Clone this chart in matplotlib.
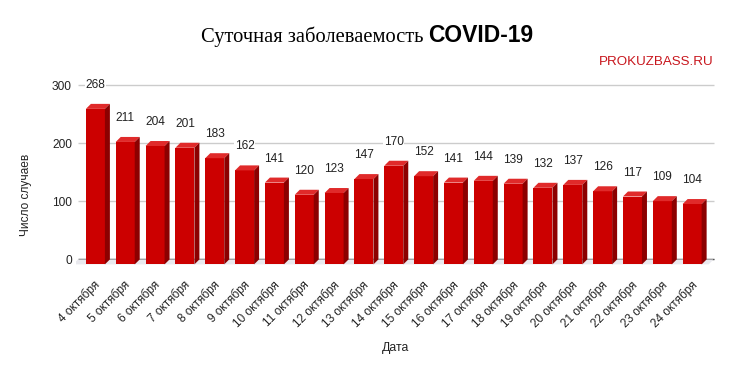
import numpy as np
import matplotlib
matplotlib.use("Agg")
import matplotlib.pyplot as plt
from matplotlib.collections import PolyCollection
from matplotlib.patches import Polygon

# ---- data ----
dates = ["4 октября", "5 октября", "6 октября", "7 октября", "8 октября",
         "9 октября", "10 октября", "11 октября", "12 октября", "13 октября",
         "14 октября", "15 октября", "16 октября", "17 октября", "18 октября",
         "19 октября", "20 октября", "21 октября", "22 октября", "23 октября",
         "24 октября"]
cases = [268, 211, 204, 201, 183, 162, 141, 120, 123, 147, 170, 152, 141,
         144, 139, 132, 137, 126, 117, 109, 104]
y_ticks = [0, 100, 200, 300]

title_main = "Суточная заболеваемость"
title_bold = "COVID-19"
source = "PROKUZBASS.RU"
x_title = "Дата"
y_title = "Число случаев"

# ---- styles ----
FRONT = "#cc0000"
TOP = "#e02a2a"
SIDE = "#8c0000"
GRID = "#cccccc"
TXT = "#222222"
FONT = ["Liberation Sans", "DejaVu Sans"]

W, H, DPI = 733, 374, 100
fig = plt.figure(figsize=(W / DPI, H / DPI), dpi=DPI)
fig.patch.set_facecolor("white")

# axes placed in pixel terms
left_px, right_px, top_px, bot_px = 76, 716, 70, 276
ax = fig.add_axes([left_px / W, 1 - bot_px / H,
                   (right_px - left_px) / W, (bot_px - top_px) / H])
xlim = (-0.65, 20.8)
ylim = (-20, 335)
ax.set_xlim(*xlim)
ax.set_ylim(*ylim)
for s in ax.spines.values():
    s.set_visible(False)
ax.set_facecolor("none")

px_x = (right_px - left_px) / (xlim[1] - xlim[0])
px_y = (bot_px - top_px) / (ylim[1] - ylim[0])
depth_px = 5
ddx = depth_px / px_x
ddy = depth_px / px_y
bw = 19 / px_x

x = np.arange(len(cases))
vals = np.array(cases, dtype=float)

# back-wall gridlines
g_left = xlim[0] + 2 / px_x
g_right = (x[-1] + bw / 2 + ddx) + 7 / px_x
for t in y_ticks:
    ax.plot([g_left, g_right], [t + ddy, t + ddy],
            color=("#333333" if t == 0 else GRID), lw=1, zorder=0.5,
            solid_capstyle="butt")

# floor
floor = Polygon([(g_left - ddx, 0), (g_right - ddx, 0),
                 (g_right, ddy), (g_left, ddy)],
                closed=True, facecolor="#e9e9ee", edgecolor="none", zorder=0.6)
ax.add_patch(floor)

# bars: front
ax.bar(x, vals, width=bw, color=FRONT, edgecolor="none", zorder=2)
# top & side faces
tops, sides = [], []
for xi, v in zip(x, vals):
    l, r = xi - bw / 2, xi + bw / 2
    tops.append([(l, v), (r, v), (r + ddx, v + ddy), (l + ddx, v + ddy)])
    sides.append([(r, 0), (r + ddx, ddy), (r + ddx, v + ddy), (r, v)])
ax.add_collection(PolyCollection(tops, facecolors=TOP, edgecolors="none", zorder=2))
ax.add_collection(PolyCollection(sides, facecolors=SIDE, edgecolors="none", zorder=2))

# value labels
for xi, v in zip(x, vals):
    ax.annotate(f"{int(v)}", (xi, v), xytext=(0, 24 * 72 / DPI),
                textcoords="offset points", ha="center", va="center",
                fontsize=8.6, color=TXT, family=FONT, zorder=3,
                bbox=dict(facecolor="white", edgecolor="none", pad=0.5))

# y ticks on back wall
ax.set_yticks(np.array(y_ticks) + ddy)
ax.set_yticklabels([str(t) for t in y_ticks], fontsize=8.6, color=TXT, family=FONT)
ax.tick_params(axis="y", length=0, pad=3)

# x ticks (anchored slightly right of the front-face centre)
ax.set_xticks(x + 3 / px_x)
ax.set_xticklabels(dates, rotation=45, ha="right", va="center",
                   rotation_mode="anchor", fontsize=8.5, color=TXT, family=FONT)
ax.tick_params(axis="x", length=0, pad=5)

# axis titles
fig.text(26 / W, 1 - 195 / H, y_title, rotation=90, ha="center", va="center",
         fontsize=8.6, color=TXT, family=FONT)
fig.text(396 / W, 1 - 348 / H, x_title, ha="center", va="center",
         fontsize=8.8, color=TXT, family=FONT)

# title
fig.text(201 / W, 1 - 41.7 / H, title_main, ha="left", va="baseline",
         fontsize=14.8, color="black", family=["Liberation Serif", "DejaVu Serif"])
fig.text(428 / W, 1 - 41.7 / H, title_bold, ha="left", va="baseline",
         fontsize=16.5, fontweight="bold", color="black", family=FONT)

# source
fig.text(713 / W, 1 - 65 / H, source, ha="right", va="baseline",
         fontsize=9.6, color="#c8161d", family=FONT)

fig.savefig("out.png", dpi=DPI, facecolor="white")
